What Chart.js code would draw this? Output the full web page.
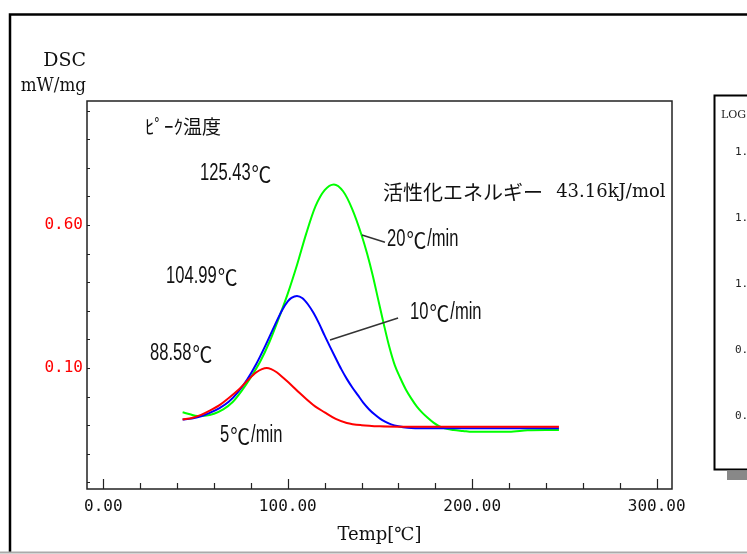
<!DOCTYPE html>
<html>
<head>
<meta charset="utf-8">
<script src="https://cdn.jsdelivr.net/npm/chart.js@4.4.1/dist/chart.umd.min.js"></script>
<style>
html, body { margin: 0; padding: 0; background: #fff; overflow: hidden; }
canvas { display: block; }
</style>
</head>
<body>
<canvas id="chart-01" width="747" height="554"></canvas>
<script>
// DSC curves, temperature in C and heat flow in mW/mg
const tempRed = [43, 48, 53, 58, 63, 68, 73, 78, 83, 86, 88.6, 91, 94, 98, 102, 106, 110, 115, 120, 126, 132, 140, 150, 160, 180, 200, 220, 247];
const dscRed = [-0.080, -0.075, -0.064, -0.048, -0.030, -0.005, 0.022, 0.055, 0.085, 0.096, 0.100, 0.096, 0.085, 0.063, 0.040, 0.015, -0.008, -0.035, -0.055, -0.078, -0.092, -0.100, -0.104, -0.105, -0.105, -0.105, -0.105, -0.105];

const tempBlue = [43, 48, 53, 58, 63, 68, 73, 78, 83, 88, 93, 97, 100, 102, 105, 108, 111, 114, 117, 120, 123, 126, 129, 132, 135, 138, 141, 144, 147, 150, 153, 156, 160, 165, 175, 200, 225, 247];
const dscBlue = [-0.080, -0.077, -0.069, -0.056, -0.040, -0.018, 0.016, 0.060, 0.115, 0.180, 0.250, 0.303, 0.333, 0.345, 0.352, 0.344, 0.322, 0.292, 0.255, 0.213, 0.173, 0.134, 0.096, 0.062, 0.032, 0.005, -0.022, -0.044, -0.062, -0.077, -0.088, -0.097, -0.104, -0.109, -0.111, -0.111, -0.111, -0.111];

const tempGreen = [43, 47, 51, 55, 60, 65, 70, 75, 80, 85, 90, 95, 100, 105, 110, 115, 120, 125, 130, 135, 140, 143, 146, 149, 152, 155, 158, 161, 164, 167, 170, 173, 176, 179, 182, 185, 190, 195, 200, 210, 220, 230, 240, 247];
const dscGreen = [-0.055, -0.062, -0.068, -0.067, -0.060, -0.045, -0.020, 0.020, 0.068, 0.122, 0.190, 0.272, 0.360, 0.460, 0.570, 0.665, 0.722, 0.742, 0.718, 0.655, 0.565, 0.500, 0.425, 0.340, 0.255, 0.175, 0.110, 0.065, 0.025, -0.007, -0.035, -0.057, -0.075, -0.091, -0.103, -0.111, -0.117, -0.120, -0.123, -0.123, -0.123, -0.118, -0.117, -0.117];

const xTickValues = [0, 100, 200, 300];
const yTickValues = [0.10, 0.60];
const logTickLabels = ['1.40', '1.20', '1.00', '0.80', '0.60'];

function pts(xs, ys) {
    return xs.map((x, i) => ({ x: x, y: ys[i] }));
}

function txt(ctx, s, x, y, font, color, sx, align) {
    ctx.save();
    ctx.translate(x, y);
    ctx.scale(sx || 1, 1);
    ctx.font = font;
    ctx.fillStyle = color || '#000';
    ctx.textAlign = align || 'left';
    ctx.textBaseline = 'middle';
    ctx.fillText(s, 0, 0);
    ctx.restore();
}

const degFont = '22px "Noto Sans CJK JP"';

// narrow numbers, with the degree sign drawn full width
function note(ctx, s, x, y, font, sx) {
    const parts = s.split('℃');
    let cx = x;
    parts.forEach((p, i) => {
        if (p) {
            txt(ctx, p, cx, y, font, '#111', sx);
            ctx.font = font;
            cx += ctx.measureText(p).width * sx;
        }
        if (i < parts.length - 1) {
            cx += 1;
            txt(ctx, '℃', cx, y, degFont, '#111', 0.9);
            ctx.font = degFont;
            cx += ctx.measureText('℃').width * 0.9 + 1;
        }
    });
}

const numFont = '23px "Liberation Sans"';
const serifFont = '18px "DejaVu Serif"';

// annotation texts, placed in data units
const notes = [
    { text: 'ﾋﾟｰｸ温度', t: 22.6, v: 0.943, font: '19px "Noto Sans CJK JP"', sx: 1 },
    { text: '125.43℃', t: 52.4, v: 0.778, font: numFont, sx: 0.72 },
    { text: '104.99℃', t: 34.0, v: 0.418, font: numFont, sx: 0.72 },
    { text: '88.58℃', t: 25.3, v: 0.149, font: numFont, sx: 0.72 },
    { text: '活性化エネルギー', t: 151.6, v: 0.715, font: '20px "Noto Sans CJK JP"', sx: 1 },
    { text: '43.16kJ/mol', t: 245.5, v: 0.715, font: serifFont, sx: 1 },
    { text: '20℃/min', t: 153.8, v: 0.548, font: numFont, sx: 0.72 },
    { text: '10℃/min', t: 166.3, v: 0.292, font: numFont, sx: 0.72 },
    { text: '5℃/min', t: 63.3, v: -0.138, font: numFont, sx: 0.72 }
];
const leaders = [
    [140.2, 0.565, 152.7, 0.540],
    [122.9, 0.198, 159.8, 0.275]
];

const decor = {
    id: 'decor',
    beforeDraw(chart) {
        const ctx = chart.ctx;
        ctx.save();
        // outer frame
        ctx.strokeStyle = '#000';
        ctx.lineWidth = 2.5;
        ctx.beginPath();
        ctx.moveTo(10, 552); ctx.lineTo(10, 14.5); ctx.lineTo(747, 14.5);
        ctx.stroke();
        ctx.strokeStyle = '#aaa';
        ctx.lineWidth = 2;
        ctx.beginPath();
        ctx.moveTo(0, 552.5); ctx.lineTo(747, 552.5);
        ctx.stroke();
        // side panel
        ctx.strokeStyle = '#000';
        ctx.lineWidth = 2;
        ctx.beginPath();
        ctx.moveTo(747, 95.5); ctx.lineTo(714.5, 95.5); ctx.lineTo(714.5, 469.5); ctx.lineTo(747, 469.5);
        ctx.stroke();
        ctx.fillStyle = '#888';
        ctx.fillRect(727, 471, 20, 9);
        txt(ctx, 'LOG', 721, 115, '11px "DejaVu Serif"', '#222');
        logTickLabels.forEach((s, i) => txt(ctx, s, 735, 152 + i * 66, '11px "DejaVu Sans Mono"', '#222'));
        // axis unit labels
        txt(ctx, 'DSC', 86, 61, '19px "DejaVu Serif"', '#111', 1, 'right');
        txt(ctx, 'mW/mg', 86, 86, '18px "DejaVu Serif"', '#111', 0.93, 'right');
        ctx.restore();
    },
    afterDraw(chart) {
        const ctx = chart.ctx;
        const a = chart.chartArea;
        const xs = chart.scales.x, ys = chart.scales.y;
        ctx.save();
        ctx.strokeStyle = '#222';
        ctx.lineWidth = 1.5;
        ctx.strokeRect(a.left, a.top, a.right - a.left, a.bottom - a.top);
        ctx.lineWidth = 1.2;
        ctx.beginPath();
        for (let t = 0; t <= 300; t += 20) {
            const px = Math.round(xs.getPixelForValue(t)) + 0.5;
            ctx.moveTo(px, a.bottom);
            ctx.lineTo(px, a.bottom - (t % 100 === 0 ? 10 : 6));
        }
        for (let k = -3; k <= 10; k++) {
            const py = Math.round(ys.getPixelForValue(k / 10)) + 0.5;
            ctx.moveTo(a.left, py);
            ctx.lineTo(a.left + 3, py);
        }
        ctx.stroke();
        // leader lines
        ctx.strokeStyle = '#333';
        ctx.lineWidth = 1.5;
        ctx.beginPath();
        leaders.forEach(l => {
            ctx.moveTo(xs.getPixelForValue(l[0]), ys.getPixelForValue(l[1]));
            ctx.lineTo(xs.getPixelForValue(l[2]), ys.getPixelForValue(l[3]));
        });
        ctx.stroke();
        notes.forEach(n => note(ctx, n.text, xs.getPixelForValue(n.t), ys.getPixelForValue(n.v), n.font, n.sx));
        ctx.restore();
    }
};

const ctx = document.getElementById('chart-01').getContext('2d');

const myChart = new Chart(ctx, {
    type: 'line',
    data: {
        datasets: [{
            label: '5℃/min',
            data: pts(tempRed, dscRed),
            borderColor: '#ff0000',
            borderWidth: 2,
            pointRadius: 0,
            fill: false,
            cubicInterpolationMode: 'monotone'
        },
        {
            label: '10℃/min',
            data: pts(tempBlue, dscBlue),
            borderColor: '#0000ff',
            borderWidth: 2,
            pointRadius: 0,
            fill: false,
            cubicInterpolationMode: 'monotone'
        },
        {
            label: '20℃/min',
            data: pts(tempGreen, dscGreen),
            borderColor: '#00ff00',
            borderWidth: 2,
            pointRadius: 0,
            fill: false,
            cubicInterpolationMode: 'monotone'
        }]
    },
    options: {
        responsive: false,
        animation: false,
        events: [],
        layout: { padding: { top: 101, right: 75, left: 0, bottom: 0 } },
        plugins: {
            legend: { display: false },
            tooltip: { enabled: false }
        },
        scales: {
            x: {
                type: 'linear',
                min: -8.84,
                max: 308.3,
                grid: { display: false, drawTicks: false },
                border: { display: false },
                afterBuildTicks: s => { s.ticks = xTickValues.map(v => ({ value: v })); },
                afterFit: s => { s.height = 65; },
                ticks: {
                    font: { family: 'DejaVu Sans Mono', size: 16 },
                    color: '#111',
                    padding: 8,
                    maxRotation: 0,
                    autoSkip: false,
                    callback: v => v.toFixed(2)
                },
                title: {
                    display: true,
                    text: 'Temp[℃]',
                    font: { family: 'DejaVu Serif', size: 18 },
                    color: '#111',
                    padding: { top: 0, bottom: 8 }
                }
            },
            y: {
                type: 'linear',
                min: -0.3231,
                max: 1.0336,
                grid: { display: false, drawTicks: false },
                border: { display: false },
                afterBuildTicks: s => { s.ticks = yTickValues.map(v => ({ value: v })); },
                afterFit: s => { s.width = 87; },
                ticks: {
                    font: { family: 'DejaVu Sans Mono', size: 16 },
                    color: '#ff0000',
                    padding: 4,
                    callback: v => v.toFixed(2)
                }
            }
        }
    },
    plugins: [decor]
});
</script>
</body>
</html>
